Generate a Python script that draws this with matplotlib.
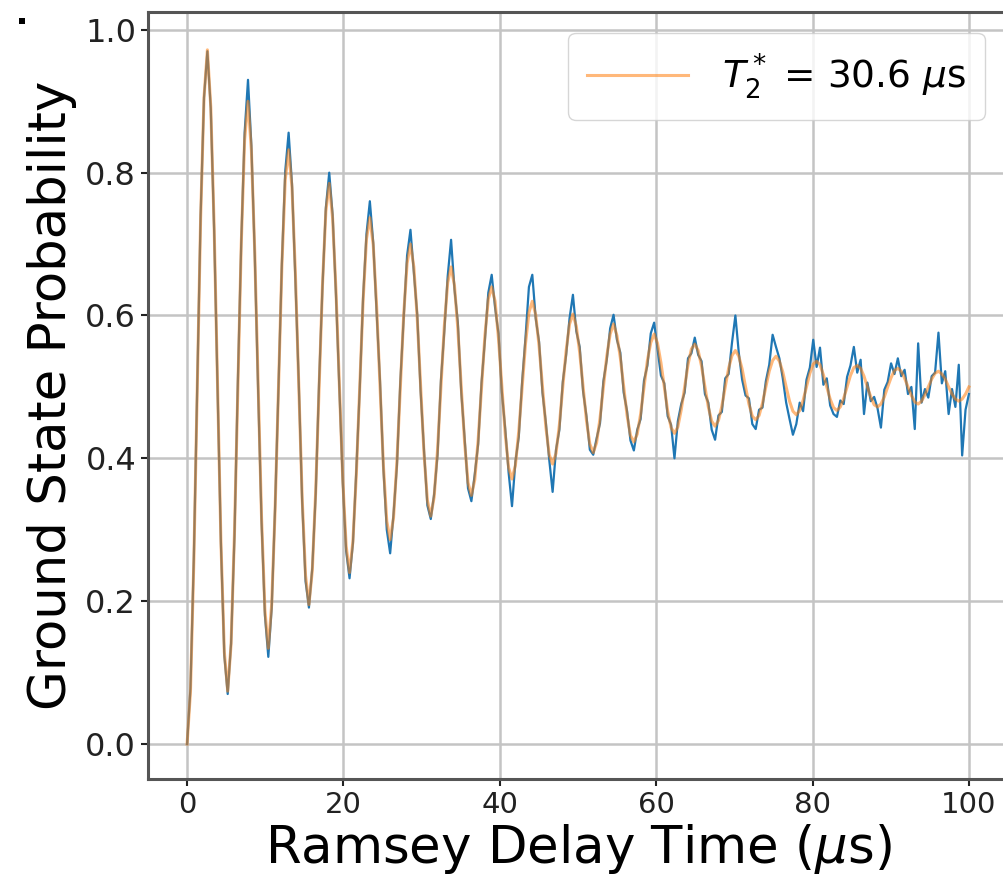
"""
Ramsey fringe: ground state probability vs delay time, data + damped fit
"""

import numpy as np
import matplotlib
matplotlib.use("Agg")
import matplotlib.pyplot as plt
from matplotlib.patches import Rectangle

# delay grid shared by data and fit (232 samples, 0 .. 100 us)
delay_us = np.linspace(0, 100, 232)

# fitted curve, one row per oscillation
fit_prob = [
    0.000, 0.073, 0.257, 0.500, 0.736, 0.905, 0.972, 0.892, 0.723, 0.500, 0.283, 0.129,
    0.074, 0.140, 0.295, 0.500, 0.699, 0.846, 0.900, 0.831, 0.688, 0.500, 0.317, 0.187,
    0.134, 0.196, 0.327, 0.500, 0.668, 0.790, 0.832, 0.779, 0.659, 0.500, 0.345, 0.236,
    0.195, 0.243, 0.354, 0.500, 0.642, 0.746, 0.785, 0.736, 0.634, 0.500, 0.370, 0.277,
    0.240, 0.284, 0.377, 0.500, 0.620, 0.707, 0.737, 0.699, 0.613, 0.500, 0.390, 0.312,
    0.286, 0.317, 0.396, 0.500, 0.601, 0.673, 0.700, 0.668, 0.596, 0.500, 0.407, 0.341,
    0.319, 0.346, 0.412, 0.500, 0.585, 0.646, 0.668, 0.642, 0.581, 0.500, 0.422, 0.366,
    0.348, 0.370, 0.426, 0.500, 0.572, 0.623, 0.640, 0.620, 0.568, 0.500, 0.434, 0.387,
    0.371, 0.390, 0.438, 0.500, 0.561, 0.604, 0.620, 0.601, 0.557, 0.500, 0.444, 0.405,
    0.392, 0.407, 0.447, 0.500, 0.551, 0.588, 0.602, 0.585, 0.548, 0.500, 0.453, 0.420,
    0.408, 0.422, 0.456, 0.500, 0.543, 0.574, 0.588, 0.572, 0.541, 0.500, 0.460, 0.432,
    0.423, 0.434, 0.462, 0.500, 0.537, 0.562, 0.574, 0.561, 0.534, 0.500, 0.466, 0.443,
    0.435, 0.444, 0.468, 0.500, 0.531, 0.553, 0.560, 0.551, 0.529, 0.500, 0.472, 0.452,
    0.445, 0.453, 0.473, 0.500, 0.526, 0.544, 0.551, 0.543, 0.525, 0.500, 0.476, 0.459,
    0.454, 0.460, 0.477, 0.500, 0.522, 0.537, 0.543, 0.536, 0.521, 0.500, 0.480, 0.466,
    0.461, 0.467, 0.481, 0.500, 0.519, 0.532, 0.536, 0.531, 0.517, 0.500, 0.483, 0.471,
    0.467, 0.472, 0.484, 0.500, 0.516, 0.527, 0.530, 0.526, 0.515, 0.500, 0.486, 0.475,
    0.472, 0.476, 0.486, 0.500, 0.513, 0.523, 0.526, 0.522, 0.512, 0.500, 0.488, 0.479,
    0.476, 0.480, 0.489, 0.500, 0.511, 0.519, 0.522, 0.518, 0.511, 0.500, 0.490, 0.483,
    0.480, 0.483, 0.490, 0.500,
]

measured_prob = [
    0.000, 0.078, 0.262, 0.503, 0.740, 0.905, 0.970, 0.890, 0.718, 0.497, 0.280, 0.124,
    0.070, 0.141, 0.291, 0.507, 0.702, 0.856, 0.930, 0.838, 0.684, 0.494, 0.312, 0.180,
    0.122, 0.190, 0.331, 0.498, 0.672, 0.802, 0.856, 0.784, 0.650, 0.505, 0.340, 0.228,
    0.191, 0.247, 0.350, 0.506, 0.640, 0.751, 0.800, 0.741, 0.628, 0.497, 0.366, 0.270,
    0.232, 0.281, 0.383, 0.496, 0.625, 0.714, 0.760, 0.702, 0.606, 0.508, 0.386, 0.300,
    0.267, 0.322, 0.390, 0.507, 0.597, 0.684, 0.720, 0.660, 0.601, 0.494, 0.411, 0.334,
    0.315, 0.350, 0.405, 0.509, 0.578, 0.655, 0.706, 0.637, 0.590, 0.493, 0.428, 0.358,
    0.340, 0.378, 0.420, 0.506, 0.566, 0.632, 0.657, 0.611, 0.575, 0.493, 0.441, 0.380,
    0.333, 0.395, 0.430, 0.508, 0.570, 0.640, 0.657, 0.596, 0.563, 0.492, 0.450, 0.398,
    0.353, 0.412, 0.440, 0.507, 0.545, 0.596, 0.629, 0.578, 0.556, 0.494, 0.459, 0.412,
    0.405, 0.428, 0.449, 0.508, 0.538, 0.582, 0.601, 0.566, 0.548, 0.492, 0.466, 0.425,
    0.411, 0.440, 0.455, 0.509, 0.530, 0.575, 0.590, 0.553, 0.516, 0.505, 0.459, 0.447,
    0.400, 0.452, 0.476, 0.492, 0.540, 0.547, 0.569, 0.545, 0.536, 0.490, 0.478, 0.440,
    0.426, 0.460, 0.465, 0.512, 0.518, 0.562, 0.600, 0.548, 0.510, 0.488, 0.484, 0.448,
    0.441, 0.468, 0.471, 0.508, 0.531, 0.573, 0.556, 0.540, 0.512, 0.478, 0.455, 0.433,
    0.448, 0.478, 0.466, 0.510, 0.527, 0.566, 0.528, 0.555, 0.503, 0.512, 0.474, 0.462,
    0.458, 0.481, 0.476, 0.514, 0.530, 0.556, 0.520, 0.538, 0.462, 0.506, 0.480, 0.486,
    0.470, 0.443, 0.496, 0.507, 0.533, 0.518, 0.540, 0.515, 0.524, 0.490, 0.500, 0.441,
    0.561, 0.478, 0.497, 0.485, 0.515, 0.520, 0.576, 0.505, 0.522, 0.462, 0.497, 0.472,
    0.531, 0.404, 0.468, 0.490,
]

t2_star_us = 30.6
x_ticks = [0, 20, 40, 60, 80, 100]
y_ticks = [0.0, 0.2, 0.4, 0.6, 0.8, 1.0]

fig = plt.figure(figsize=(10.04, 8.81), dpi=100)
ax = fig.add_axes([0.1474, 0.1158, 0.8566, 0.8706])

ax.plot(delay_us, measured_prob, color='#1f77b4', linewidth=1.6, zorder=2)
ax.plot(delay_us, fit_prob, color='#ff7f0e', linewidth=2.2, alpha=0.55, zorder=3,
        label=r'$T_2^*$ = %.1f $\mu$s' % t2_star_us)

ax.set_xlim(-5, 105)
ax.set_ylim(-0.049, 1.025)
ax.set_xticks(x_ticks)
ax.set_yticks(y_ticks)
ax.set_yticklabels(['%.1f' % v for v in y_ticks])

ax.grid(True, color='#c4c4c4', linewidth=1.8)
ax.set_axisbelow(True)
for side in ['left', 'bottom', 'top', 'right']:
    ax.spines[side].set_color('#555555')
    ax.spines[side].set_linewidth(2.2)

ax.tick_params(labelsize=21, colors='#222222', length=5, width=1.5)
ax.tick_params(axis='y', labelsize=23)
ax.set_xlabel(r'Ramsey Delay Time ($\mu$s)', fontsize=37, labelpad=2)
ax.set_ylabel('Ground State Probability', fontsize=37, labelpad=6)

leg = ax.legend(loc='upper right', bbox_to_anchor=(0.973, 0.973), borderaxespad=0,
                fontsize=27, handlelength=2.7, handletextpad=0.9, framealpha=0.8,
                borderpad=0.5)
leg.get_frame().set_edgecolor('#cccccc')

# small mark at the top-left corner of the source image
fig.patches.append(Rectangle((0.019, 0.973), 0.006, 0.007, transform=fig.transFigure,
                             facecolor='black', edgecolor='none'))

plt.savefig('out.png', dpi=100, facecolor='white')
plt.close()
